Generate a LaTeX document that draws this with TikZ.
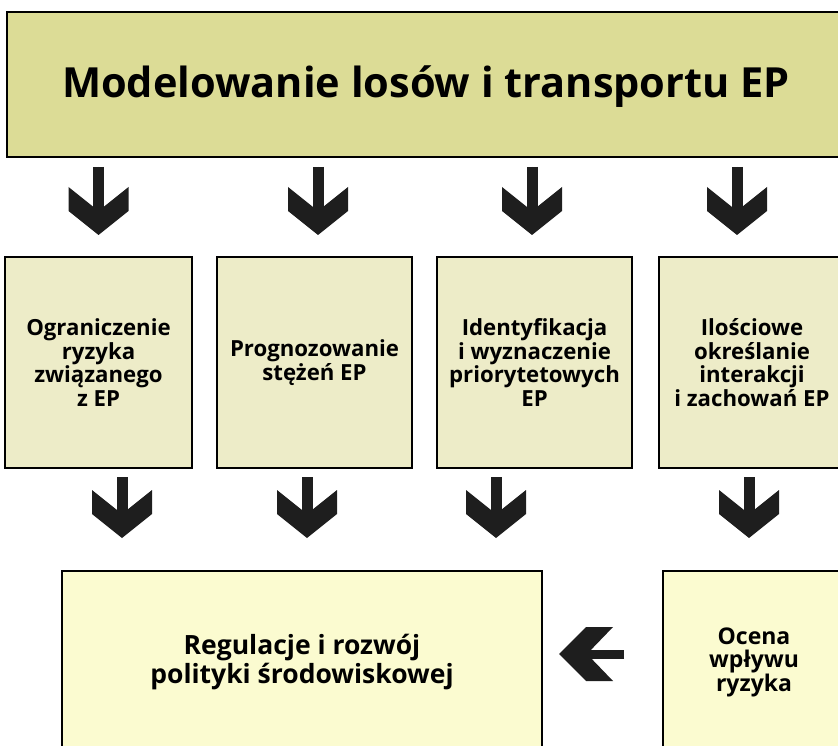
\documentclass[tikz,border=0pt]{standalone}
\usepackage{fontspec}
\setmainfont{Open Sans}
\usepackage{tikz}
\usetikzlibrary{arrows.meta,positioning}
\definecolor{TopOlive}{RGB}{220,220,150}
\definecolor{MidCream}{RGB}{237,236,200}
\definecolor{LowCream}{RGB}{251,251,208}
\definecolor{ArrowBlack}{RGB}{30,30,30}

% gruba strzalka w ksztalcie szewronu
\pgfdeclarearrow{
  name = Chevron,
  defaults = {length = 48pt, width = 60pt, inset = 24pt},
  setup code = {
    \pgfarrowssettipend{0pt}
    \pgfarrowssetbackend{-\pgfarrowlength}
    \pgfarrowssetlineend{\dimexpr\pgfarrowinset-\pgfarrowlength+2pt\relax}
    \pgfarrowssavethe\pgfarrowlength
    \pgfarrowssavethe\pgfarrowwidth
    \pgfarrowssavethe\pgfarrowinset
  },
  drawing code = {
    \pgfpathmoveto{\pgfqpoint{0pt}{0pt}}
    \pgfpathlineto{\pgfpoint{-.5\pgfarrowlength}{.5\pgfarrowwidth}}
    \pgfpathlineto{\pgfpoint{-\pgfarrowlength}{.5\pgfarrowwidth}}
    \pgfpathlineto{\pgfpoint{\pgfarrowinset-\pgfarrowlength}{0pt}}
    \pgfpathlineto{\pgfpoint{-\pgfarrowlength}{-.5\pgfarrowwidth}}
    \pgfpathlineto{\pgfpoint{-.5\pgfarrowlength}{-.5\pgfarrowwidth}}
    \pgfpathclose
    \pgfusepathqfill
  },
  parameters = {\the\pgfarrowlength,\the\pgfarrowwidth,\the\pgfarrowinset}
}

\begin{document}
\begin{tikzpicture}[
  x=1pt, y=1pt,
  box/.style={draw=black, line width=2.2pt, outer sep=0pt, align=center, inner sep=0pt, font=\bfseries\fontsize{22.2}{23.5}\selectfont},
  topbox/.style={box, fill=TopOlive, minimum width=838pt, minimum height=145pt, text height=36pt, text depth=10.4pt, font=\bfseries\fontsize{41.5}{46}\selectfont},
  midbox/.style={box, fill=MidCream, minimum height=211pt},
  lowbox/.style={box, fill=LowCream, minimum height=182pt},
  fatarrow/.style={draw=ArrowBlack, fill=ArrowBlack, line width=11pt, -{Chevron[length=48pt, width=60pt, inset=24pt]}},
  backarrow/.style={draw=ArrowBlack, fill=ArrowBlack, line width=9pt, -{Chevron[length=54pt, width=54pt, inset=26pt]}}
]
\useasboundingbox (0,0) rectangle (838,-746);
\clip (0,0) rectangle (838,-746);

\node[topbox] (title) at (426,-84.5) {Modelowanie losów i transportu EP};

\node[midbox, minimum width=187pt] (limit) at (98.5,-362.5) {Ograniczenie\\ ryzyka\\ związanego\\ z EP};
\node[midbox, minimum width=195pt, right=25pt of limit] (forecast) {Prognozowanie\\ stężeń EP};
\node[midbox, minimum width=195pt, right=25pt of forecast] (identify) {Identyfikacja\\ i wyznaczenie\\ priorytetowych\\ EP};
\node[midbox, minimum width=186pt, right=27pt of identify] (quantify) {Ilościowe\\ określanie\\ interakcji\\ i zachowań EP};

\node[lowbox, minimum width=480pt, font=\bfseries\fontsize{26.5}{29}\selectfont] (policy) at (302,-662) {Regulacje i rozwój\\ polityki środowiskowej};
\node[lowbox, minimum width=182pt, font=\bfseries\fontsize{23}{23.5}\selectfont, right=121pt of policy] (impact) {Ocena\\ wpływu\\ ryzyka};

% z tytulu w dol
\draw[fatarrow, shorten <=10pt, shorten >=22pt] (limit.north |- title.south) -- (limit.north);
\draw[fatarrow, shorten <=10pt, shorten >=22pt] ([xshift=3.5pt]forecast.north |- title.south) -- ([xshift=3.5pt]forecast.north);
\draw[fatarrow, shorten <=10pt, shorten >=22pt] ([xshift=-2.5pt]identify.north |- title.south) -- ([xshift=-2.5pt]identify.north);
\draw[fatarrow, shorten <=10pt, shorten >=22pt] ([xshift=-15pt]quantify.north |- title.south) -- ([xshift=-15pt]quantify.north);

% do dolnego rzedu
\draw[fatarrow, shorten <=9pt, shorten >=33pt] ([xshift=23.5pt]limit.south) -- ([xshift=23.5pt]limit.south |- policy.north);
\draw[fatarrow, shorten <=9pt, shorten >=33pt] ([xshift=-7.5pt]forecast.south) -- ([xshift=-7.5pt]forecast.south |- policy.north);
\draw[fatarrow, shorten <=9pt, shorten >=33pt] ([xshift=-38.5pt]identify.south) -- ([xshift=-38.5pt]identify.south |- policy.north);
\draw[fatarrow, shorten <=9pt, shorten >=33pt] ([xshift=-3pt]quantify.south) -- ([xshift=-3pt]quantify.south |- impact.north);

\draw[backarrow, shorten <=39pt, shorten >=17pt] ([yshift=8pt]impact.west) -- ([yshift=8pt]policy.east);
\end{tikzpicture}
\end{document}
